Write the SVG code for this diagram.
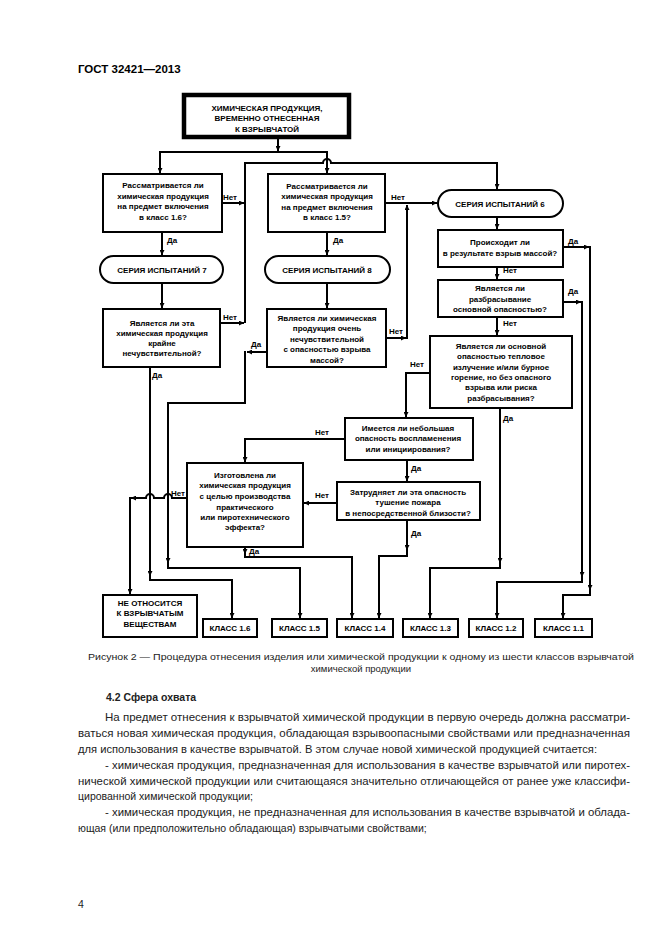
<svg xmlns="http://www.w3.org/2000/svg" width="661" height="935" viewBox="0 0 661 935">
<style>
.bx{fill:none;stroke:#000;stroke-width:2}
.c{fill:none;stroke:#000;stroke-width:2}
.t{font-family:"Liberation Sans",Arial,sans-serif;font-size:8px;font-weight:bold;text-anchor:middle;fill:#000}
.l{font-family:"Liberation Sans",Arial,sans-serif;font-size:8px;font-weight:bold;fill:#000}
.b{font-family:"Liberation Sans",Arial,sans-serif;font-size:10.5px;fill:#222}
.cap{font-family:"Liberation Sans",Arial,sans-serif;font-size:9.5px;fill:#222;text-anchor:middle}
</style>
<defs>
<marker id="ah" viewBox="0 0 6 6" refX="6" refY="3" markerWidth="5" markerHeight="5" markerUnits="userSpaceOnUse" orient="auto"><path d="M0,0L6,3L0,6z" fill="#000"/></marker>
</defs>
<rect width="661" height="935" fill="#fff"/>
<text x="78" y="73" style="font-family:'Liberation Sans',Arial,sans-serif;font-size:11.5px;font-weight:bold">ГОСТ 32421—2013</text>

<g id="n-top"><rect x="184" y="95" width="165" height="42" fill="none" stroke="#000" stroke-width="4.5"/>
<text class="t" x="267" y="111">ХИМИЧЕСКАЯ ПРОДУКЦИЯ,</text><text class="t" x="267" y="121">ВРЕМЕННО ОТНЕСЕННАЯ</text><text class="t" x="267" y="132">К ВЗРЫВЧАТОЙ</text></g>

<g id="n-q16"><rect class="bx" x="103" y="174" width="119" height="58"/>
<text class="t" x="163" y="188">Рассматривается ли</text><text class="t" x="163" y="198.5">химическая продукция</text><text class="t" x="163" y="209">на предмет включения</text><text class="t" x="163" y="219.5">в класс 1.6?</text></g>

<g id="n-q15"><rect class="bx" x="268" y="174" width="117" height="58"/>
<text class="t" x="327" y="189">Рассматривается ли</text><text class="t" x="327" y="199">химическая продукция</text><text class="t" x="327" y="209.5">на предмет включения</text><text class="t" x="327" y="220">в класс 1.5?</text></g>

<g id="n-s7"><rect class="bx" x="100" y="256" width="123" height="27" rx="13.5"/><text class="t" x="162" y="273">СЕРИЯ ИСПЫТАНИЙ 7</text></g>
<g id="n-s8"><rect class="bx" x="265" y="256" width="125" height="27" rx="13.5"/><text class="t" x="327" y="273">СЕРИЯ ИСПЫТАНИЙ 8</text></g>
<g id="n-s6"><rect class="bx" x="438" y="190" width="125" height="27" rx="13.5"/><text class="t" x="500" y="206.5">СЕРИЯ ИСПЫТАНИЙ 6</text></g>

<g id="n-qa"><rect class="bx" x="438" y="230" width="125" height="37"/>
<text class="t" x="500" y="245">Происходит ли</text><text class="t" x="500" y="256">в результате взрыв массой?</text></g>

<g id="n-qb"><rect class="bx" x="438" y="280" width="125" height="37"/>
<text class="t" x="500" y="291">Является ли</text><text class="t" x="500" y="301.5">разбрасывание</text><text class="t" x="500" y="312">основной опасностью?</text></g>

<g id="n-q3"><rect class="bx" x="103" y="309" width="117" height="58"/>
<text class="t" x="162" y="326">Является ли эта</text><text class="t" x="162" y="336">химическая продукция</text><text class="t" x="162" y="346">крайне</text><text class="t" x="162" y="356">нечувствительной?</text></g>

<g id="n-q6"><rect class="bx" x="267" y="309" width="119" height="58"/>
<text class="t" x="327" y="321">Является ли химическая</text><text class="t" x="327" y="331">продукция очень</text><text class="t" x="327" y="342">нечувствительной</text><text class="t" x="327" y="352">с опасностью взрыва</text><text class="t" x="327" y="363">массой?</text></g>

<g id="n-qc"><rect class="bx" x="430" y="336" width="142" height="72"/>
<text class="t" x="501" y="349">Является ли основной</text><text class="t" x="501" y="359">опасностью тепловое</text><text class="t" x="501" y="369.5">излучение и/или бурное</text><text class="t" x="501" y="380">горение, но без опасного</text><text class="t" x="501" y="390">взрыва или риска</text><text class="t" x="501" y="400.5">разбрасывания?</text></g>

<g id="n-qd"><rect class="bx" x="345" y="418" width="128" height="42"/>
<text class="t" x="408" y="431">Имеется ли небольшая</text><text class="t" x="408" y="441">опасность воспламенения</text><text class="t" x="408" y="452">или инициирования?</text></g>

<g id="n-qe"><rect class="bx" x="337" y="482" width="143" height="38"/>
<text class="t" x="408" y="495">Затрудняет ли эта опасность</text><text class="t" x="408" y="505">тушение пожара</text><text class="t" x="408" y="516">в непосредственной близости?</text></g>

<g id="n-qf"><rect class="bx" x="187" y="463" width="116" height="84"/>
<text class="t" x="245" y="478">Изготовлена ли</text><text class="t" x="245" y="488">химическая продукция</text><text class="t" x="245" y="499">с целью производства</text><text class="t" x="245" y="509.5">практического</text><text class="t" x="245" y="520">или пиротехнического</text><text class="t" x="245" y="530">эффекта?</text></g>

<g id="n-not"><rect class="bx" x="103" y="595" width="94" height="42"/>
<text class="t" x="150" y="606">НЕ ОТНОСИТСЯ</text><text class="t" x="150" y="616">К ВЗРЫВЧАТЫМ</text><text class="t" x="150" y="627">ВЕЩЕСТВАМ</text></g>

<g id="n-k16"><rect class="bx" x="203" y="619" width="54" height="18"/><text class="t" x="230" y="631">КЛАСС 1.6</text></g>
<g id="n-k15"><rect class="bx" x="272" y="619" width="55" height="18"/><text class="t" x="299.5" y="631">КЛАСС 1.5</text></g>
<g id="n-k14"><rect class="bx" x="337" y="619" width="56" height="18"/><text class="t" x="365" y="631">КЛАСС 1.4</text></g>
<g id="n-k13"><rect class="bx" x="403" y="619" width="55" height="18"/><text class="t" x="430.5" y="631">КЛАСС 1.3</text></g>
<g id="n-k12"><rect class="bx" x="469" y="619" width="54" height="18"/><text class="t" x="496" y="631">КЛАСС 1.2</text></g>
<g id="n-k11"><rect class="bx" x="535" y="619" width="57" height="18"/><text class="t" x="563.5" y="631">КЛАСС 1.1</text></g>

<g id="connectors">
<path class="c" d="M278,137 V151" marker-end="url(#ah)"/>
<path class="c" d="M160,152 H327"/>
<path class="c" d="M160,151 V173" marker-end="url(#ah)"/>
<path class="c" d="M327,151 V173" marker-end="url(#ah)"/>
<path class="c" d="M245,323 V163 H323 A4,4 0 0 1 331,163 H497 V189" marker-end="url(#ah)"/>
<path class="c" d="M222,203 H244" marker-end="url(#ah)"/>
<path class="c" d="M220,323 H244" marker-end="url(#ah)"/>
<path class="c" d="M162,232 V255" marker-end="url(#ah)"/>
<path class="c" d="M162,283 V308" marker-end="url(#ah)"/>
<path class="c" d="M327,232 V255" marker-end="url(#ah)"/>
<path class="c" d="M327,283 V308" marker-end="url(#ah)"/>
<path class="c" d="M385,203 H437" marker-end="url(#ah)"/>
<path class="c" d="M386,338 H406" marker-end="url(#ah)"/>
<path class="c" d="M407,339 V205" marker-end="url(#ah)"/>
<path class="c" d="M497,217 V229" marker-end="url(#ah)"/>
<path class="c" d="M497,267 V279" marker-end="url(#ah)"/>
<path class="c" d="M497,317 V335" marker-end="url(#ah)"/>
<path class="c" d="M563,247 H589" marker-end="url(#ah)"/>
<path class="c" d="M590,246 V590" marker-end="url(#ah)"/>
<path class="c" d="M590,588 V595 H563 V618" marker-end="url(#ah)"/>
<path class="c" d="M563,302 H581" marker-end="url(#ah)"/>
<path class="c" d="M582,301 V577" marker-end="url(#ah)"/>
<path class="c" d="M582,575 V582 H497 V618" marker-end="url(#ah)"/>
<path class="c" d="M430,373 H406 V417" marker-end="url(#ah)"/>
<path class="c" d="M500,408 V563" marker-end="url(#ah)"/>
<path class="c" d="M500,561 V568 H430 V618" marker-end="url(#ah)"/>
<path class="c" d="M345,439 H245 V462" marker-end="url(#ah)"/>
<path class="c" d="M407,460 V481" marker-end="url(#ah)"/>
<path class="c" d="M337,503 H304" marker-end="url(#ah)"/>
<path class="c" d="M407,520 V550" marker-end="url(#ah)"/>
<path class="c" d="M407,548 V556 H379 V618" marker-end="url(#ah)"/>
<path class="c" d="M245,547 V554" marker-end="url(#ah)"/>
<path class="c" d="M245,552 V557 H352 V618" marker-end="url(#ah)"/>
<path class="c" d="M187,498 H172 A4,4 0 0 0 164,498 H154 A4,4 0 0 0 146,498 H131" marker-end="url(#ah)"/>
<path class="c" d="M130,497 V594" marker-end="url(#ah)"/>
<path class="c" d="M150,367 V576" marker-end="url(#ah)"/>
<path class="c" d="M150,574 V580 H232 V618" marker-end="url(#ah)"/>
<path class="c" d="M267,352 H247" marker-end="url(#ah)"/>
<path class="c" d="M245,351 V403 H168 V563" marker-end="url(#ah)"/>
<path class="c" d="M168,561 V568 H300 V618" marker-end="url(#ah)"/>
<text class="l" x="223" y="200">Нет</text>
<text class="l" x="167" y="243">Да</text>
<text class="l" x="391" y="200">Нет</text>
<text class="l" x="333" y="243">Да</text>
<text class="l" x="568" y="244">Да</text>
<text class="l" x="503" y="273">Нет</text>
<text class="l" x="568" y="294">Да</text>
<text class="l" x="503" y="326">Нет</text>
<text class="l" x="223" y="320">Нет</text>
<text class="l" x="251" y="347">Да</text>
<text class="l" x="152" y="378">Да</text>
<text class="l" x="389" y="334">Нет</text>
<text class="l" x="410" y="367">Нет</text>
<text class="l" x="503" y="421">Да</text>
<text class="l" x="315" y="435">Нет</text>
<text class="l" x="411" y="471">Да</text>
<text class="l" x="315" y="498">Нет</text>
<text class="l" x="411" y="536">Да</text>
<text class="l" x="171" y="496">Нет</text>
<text class="l" x="249" y="554">Да</text>
</g>

<text class="cap" x="361" y="660" textLength="546" lengthAdjust="spacingAndGlyphs">Рисунок 2 — Процедура отнесения изделия или химической продукции к одному из  шести классов взрывчатой</text>
<text class="cap" x="361" y="672">химической продукции</text>
<text x="106" y="701" style="font-family:'Liberation Sans',Arial,sans-serif;font-size:10.5px;font-weight:bold;fill:#222">4.2 Сфера охвата</text>
<text class="b" x="105" y="721" textLength="525" lengthAdjust="spacingAndGlyphs">На предмет отнесения к взрывчатой химической продукции в первую очередь должна рассматри-</text>
<text class="b" x="78" y="737" textLength="552" lengthAdjust="spacingAndGlyphs">ваться новая химическая продукция,  обладающая взрывоопасными свойствами или предназначенная</text>
<text class="b" x="78" y="753" textLength="519" lengthAdjust="spacingAndGlyphs">для использования в качестве взрывчатой. В этом случае новой химической продукцией считается:</text>
<text class="b" x="105" y="769" textLength="525" lengthAdjust="spacingAndGlyphs">- химическая продукция, предназначенная для использования в качестве взрывчатой или пиротех-</text>
<text class="b" x="78" y="785" textLength="552" lengthAdjust="spacingAndGlyphs">нической химической продукции или считающаяся значительно отличающейся от ранее уже классифи-</text>
<text class="b" x="78" y="800">цированной химической продукции;</text>
<text class="b" x="105" y="816" textLength="525" lengthAdjust="spacingAndGlyphs">- химическая продукция, не предназначенная для использования в качестве взрывчатой и облада-</text>
<text class="b" x="78" y="832">ющая (или предположительно обладающая) взрывчатыми свойствами;</text>
<text class="b" x="78" y="908">4</text>
</svg>
